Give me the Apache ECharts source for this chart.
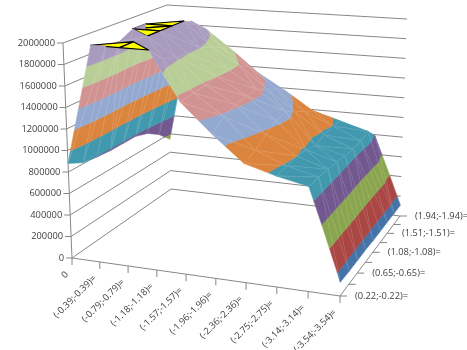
<!DOCTYPE html>
<html>
<head>
<meta charset="utf-8">
<style>html,body{margin:0;padding:0;background:#fff}#chart{width:467px;height:350px}</style>
<script src="https://cdn.jsdelivr.net/npm/echarts@6/dist/echarts.min.js"></script>
</head>
<body>
<div id="chart"></div>
<script>
// categories along the front axis
var categories = ['0','(-0.39;-0.39)=','(-0.79;-0.79)=','(-1.18;-1.18)=','(-1.57;-1.57)=','(-1.96;-1.96)=','(-2.36;-2.36)=','(-2.75;-2.75)=','(-3.14;-3.14)=','(-3.54;-3.54)='];
// depth axis, only every other one is labelled
var depthLabels = ['(0.22;-0.22)=','','(0.65;-0.65)=','','(1.08;-1.08)=','','(1.51;-1.51)=','','(1.94;-1.94)='];
var valueTicks = [0,200000,400000,600000,800000,1000000,1200000,1400000,1600000,1800000,2000000];
// one row per depth step, front to back
var series1 = [880000,2000000,2000000,2000000,1550000,1290000,1060000,980000,920000,120000];
var series2 = [810000,1940000,2000000,1860000,1570000,1380000,1100000,990000,920000,115000];
var series3 = [790000,1930000,2000000,1820000,1580000,1420000,1170000,1000000,910000,115000];
var series4 = [780000,2000000,2000000,1800000,1600000,1440000,1230000,980000,900000,115000];
var series5 = [780000,2000000,2000000,1800000,1610000,1440000,1250000,950000,880000,110000];
var series6 = [780000,1940000,2000000,1760000,1600000,1380000,1180000,980000,870000,110000];
var series7 = [740000,1900000,1920000,1700000,1520000,1320000,1120000,1000000,880000,110000];
var series8 = [660000,1860000,1820000,1620000,1400000,1240000,1060000,980000,900000,110000];
var series9 = [540000,1840000,1640000,1440000,1220000,1040000,960000,870000,790000,110000];
var rows = [series1,series2,series3,series4,series5,series6,series7,series8,series9];

var bandColors = ['#4572A7','#AA4643','#89A54E','#71588F','#4198AF','#DB843D','#93A9CF','#D19392','#B9CD96','#A99BBD'];
var zMax = 2000000, bandStep = 200000;
var gridColor = '#868686', textColor = '#404040', labelFont = '9.3px "Open Sans"';

// unit square -> plane, four corners: (0,0),(1,0),(0,1),(1,1)
function homography(p00, p10, p01, p11) {
  var dx1 = p10[0]-p11[0], dx2 = p01[0]-p11[0], sx = p00[0]-p10[0]+p11[0]-p01[0];
  var dy1 = p10[1]-p11[1], dy2 = p01[1]-p11[1], sy = p00[1]-p10[1]+p11[1]-p01[1];
  var den = dx1*dy2-dx2*dy1;
  var g = (sx*dy2-dx2*sy)/den, h = (dx1*sy-sx*dy1)/den;
  var a = p10[0]-p00[0]+g*p10[0], b = p01[0]-p00[0]+h*p01[0];
  var d = p10[1]-p00[1]+g*p10[1], e = p01[1]-p00[1]+h*p01[1];
  return function (u, v) {
    var w = g*u+h*v+1;
    return [(a*u+b*v+p00[0])/w, (d*u+e*v+p00[1])/w];
  };
}
var floorMap = homography([72,258],[340,296],[171,189],[400,216]);
var ceilMap = homography([63,43],[345,66],[167,5],[407,19]);

function project(u, v, z) {
  var f = floorMap(u,v), c = ceilMap(u,v), t = z/zMax;
  return [f[0]+(c[0]-f[0])*t, f[1]+(c[1]-f[1])*t];
}
function node(col, row) {
  return {u: col/(categories.length-1), v: row/(rows.length-1), z: rows[row][col]};
}
function clipBand(tri, lo, hi) {
  function clip(pts, keep, level) {
    var out = [];
    for (var i = 0; i < pts.length; i++) {
      var a = pts[i], b = pts[(i+1)%pts.length];
      var ka = keep(a.z), kb = keep(b.z);
      if (ka) out.push(a);
      if (ka !== kb) {
        var t = (level-a.z)/(b.z-a.z);
        out.push({u:a.u+(b.u-a.u)*t, v:a.v+(b.v-a.v)*t, z:level});
      }
    }
    return out;
  }
  var p = clip(tri, function (z) { return z >= lo; }, lo);
  return clip(p, function (z) { return z <= hi; }, hi);
}

// painter's order: back rows first, right to left inside a row
var triangles = [];
for (var r = rows.length-2; r >= 0; r--) {
  for (var c = categories.length-2; c >= 0; c--) {
    var a = node(c,r), b = node(c+1,r), d = node(c+1,r+1), e = node(c,r+1);
    if (Math.abs(a.z-d.z) <= Math.abs(b.z-e.z)) {
      triangles.push([a,d,e]); triangles.push([a,b,d]);
    } else {
      triangles.push([b,d,e]); triangles.push([a,b,e]);
    }
  }
}

function toPixels(api, pts) {
  return pts.map(function (p) { return api.coord(project(p.u,p.v,p.z)); });
}

function renderSurface(params, api) {
  var tri = triangles[params.dataIndex], kids = [];
  var allTop = tri.every(function (p) { return p.z >= zMax; });
  if (allTop) {
    return {type:'polygon', shape:{points:toPixels(api,tri)},
      style:{fill:'#FFFF00', stroke:'#000', lineWidth:1.2, lineJoin:'round'}};
  }
  bandColors.forEach(function (color, i) {
    var pts = clipBand(tri, i*bandStep, (i+1)*bandStep);
    if (pts.length < 3) return;
    kids.push({type:'polygon', shape:{points:toPixels(api,pts)},
      style:{fill:color, stroke:color, lineWidth:0.6}});
  });
  kids.push({type:'polygon', shape:{points:toPixels(api,tri)},
    style:{fill:'none', stroke:'rgba(255,255,255,0.18)', lineWidth:0.5}});
  return {type:'group', children:kids};
}

function line(api, pts, color, width) {
  return {type:'polyline', shape:{points:pts.map(function (p) { return api.coord(p); })},
    style:{fill:'none', stroke:color||gridColor, lineWidth:width||1}};
}
function label(api, pos, text, align, rotate) {
  var c = api.coord(pos);
  return {type:'text', x:c[0], y:c[1], rotation:rotate||0,
    style:{text:text, fill:textColor, font:labelFont, align:align, verticalAlign:'middle'}};
}

function renderWalls(params, api) {
  var kids = [];
  valueTicks.forEach(function (z) {
    var a = project(0,0,z), b = project(0,1,z), c = project(1,1,z);
    kids.push(line(api,[a,b,c]));
    kids.push(line(api,[[a[0]-6,a[1]],a]));
    kids.push(label(api,[a[0]-8,a[1]],String(z),'right'));
  });
  kids.push(line(api,[project(0,0,0),project(0,0,zMax)]));
  kids.push(line(api,[project(0,0,0),project(1,0,0),project(1,1,0)]));
  categories.forEach(function (name, i) {
    var p = project(i/(categories.length-1),0,0);
    kids.push(line(api,[p,[p[0],p[1]+7]]));
    kids.push(label(api,[p[0]-5,p[1]+15],name,'right',Math.PI/4));
  });
  depthLabels.forEach(function (name, i) {
    var p = project(1,i/(depthLabels.length-1),0);
    kids.push(line(api,[p,[p[0]+7,p[1]]]));
    if (name) kids.push(label(api,[p[0]+15,p[1]],name,'left'));
  });
  return {type:'group', children:kids};
}

var chart = echarts.init(document.getElementById('chart'));
chart.setOption({
  animation: false,
  grid: {left:0, right:0, top:0, bottom:0},
  xAxis: {type:'value', min:0, max:467, show:false},
  yAxis: {type:'value', min:0, max:350, inverse:true, show:false},
  series: [
    {type:'custom', renderItem:renderWalls, data:[[0,0]], clip:false, silent:true, z:1},
    {type:'custom', renderItem:renderSurface, clip:false, silent:true, z:2, progressive:0,
     data:triangles.map(function (t, i) { return [i,0]; })}
  ]
});
</script>
</body>
</html>
